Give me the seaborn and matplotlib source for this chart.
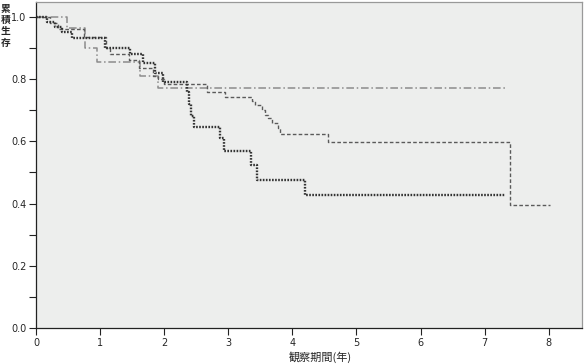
import numpy as np
import pandas as pd
import seaborn as sns
import matplotlib.pyplot as plt

# Kaplan-Meier style step curves (time in years, survival after the step)
time_a = [0, 0.17, 0.30, 0.40, 0.56, 1.08, 1.47, 1.67, 1.86, 1.98, 2.36, 2.38, 2.42,
          2.47, 2.87, 2.93, 3.35, 3.45, 4.20, 7.32]
surv_a = [1.0, 0.985, 0.967, 0.95, 0.932, 0.90, 0.881, 0.852, 0.82, 0.791, 0.76, 0.72, 0.68,
          0.646, 0.611, 0.569, 0.524, 0.476, 0.428, 0.428]

time_b = [0, 0.22, 0.35, 0.75, 1.10, 1.15, 1.45, 1.60, 1.83, 1.90, 2.00, 2.67, 2.95,
          3.37, 3.42, 3.53, 3.57, 3.62, 3.68, 3.77, 3.80, 4.56, 7.39, 8.02]
surv_b = [1.0, 0.98, 0.96, 0.935, 0.90, 0.88, 0.86, 0.835, 0.81, 0.80, 0.785, 0.759, 0.743,
          0.730, 0.717, 0.701, 0.685, 0.675, 0.659, 0.643, 0.624, 0.598, 0.395, 0.395]

time_c = [0, 0.48, 0.76, 0.95, 1.62, 1.90, 7.35]
surv_c = [1.0, 0.965, 0.90, 0.855, 0.81, 0.772, 0.772]

xticks = [0, 1, 2, 3, 4, 5, 6, 7, 8]
yticks = [0.0, 0.2, 0.4, 0.6, 0.8, 1.0]

sns.set_theme(style="ticks")
plt.rcParams['font.family'] = ['DejaVu Sans', 'Noto Sans CJK JP']

fig = plt.figure(figsize=(5.84, 3.64), dpi=100)
ax = fig.add_axes([36 / 584, 36 / 364, 546 / 584, 326 / 364])
ax.set_facecolor("#edeeed")

df_a = pd.DataFrame({"t": time_a, "s": surv_a})
df_b = pd.DataFrame({"t": time_b, "s": surv_b})
df_c = pd.DataFrame({"t": time_c, "s": surv_c})

sns.lineplot(data=df_c, x="t", y="s", ax=ax, drawstyle="steps-post", sort=False,
             estimator=None, color="#8c8c8c", lw=1.1, dashes=False,
             linestyle=(0, (5, 1.8, 1, 1.8)))
sns.lineplot(data=df_b, x="t", y="s", ax=ax, drawstyle="steps-post", sort=False,
             estimator=None, color="#5a5a5a", lw=1.0, linestyle=(0, (2.6, 1.6)))
sns.lineplot(data=df_a, x="t", y="s", ax=ax, drawstyle="steps-post", sort=False,
             estimator=None, color="#333333", lw=1.7, linestyle=(0, (0.7, 0.6)))

ax.set_xlim(0, 8.52)
ax.set_ylim(0, 1.048)
ax.set_xticks(xticks)
ax.set_xticklabels([str(v) for v in xticks], fontsize=7)
ax.set_yticks(yticks)
ax.set_yticklabels([f"{v:.1f}" for v in yticks], fontsize=7)
ax.set_yticks([0.1, 0.3, 0.5, 0.7, 0.9], minor=True)
ax.tick_params(axis="both", which="major", length=5, width=0.8, color="#222222", pad=2)
ax.tick_params(axis="y", which="minor", length=5, width=0.8, color="#222222")
ax.set_xlabel("")
ax.set_ylabel("")

for side in ["left", "bottom"]:
    ax.spines[side].set_color("#222222")
    ax.spines[side].set_linewidth(0.9)
for side in ["top", "right"]:
    ax.spines[side].set_visible(True)
    ax.spines[side].set_color("#999999")
    ax.spines[side].set_linewidth(0.9)

cjk = ['Noto Sans CJK JP', 'DejaVu Sans']
fig.text(5.5 / 584, 1 - 4 / 364, "累\n積\n生\n存", family=cjk, fontsize=7,
         ha="center", va="top", linespacing=1.15, fontweight="bold")
fig.text(320 / 584, 1 - 357 / 364, "観察期間(年)", family=cjk, fontsize=8,
         ha="center", va="center")

fig.savefig("out.png", dpi=100)
